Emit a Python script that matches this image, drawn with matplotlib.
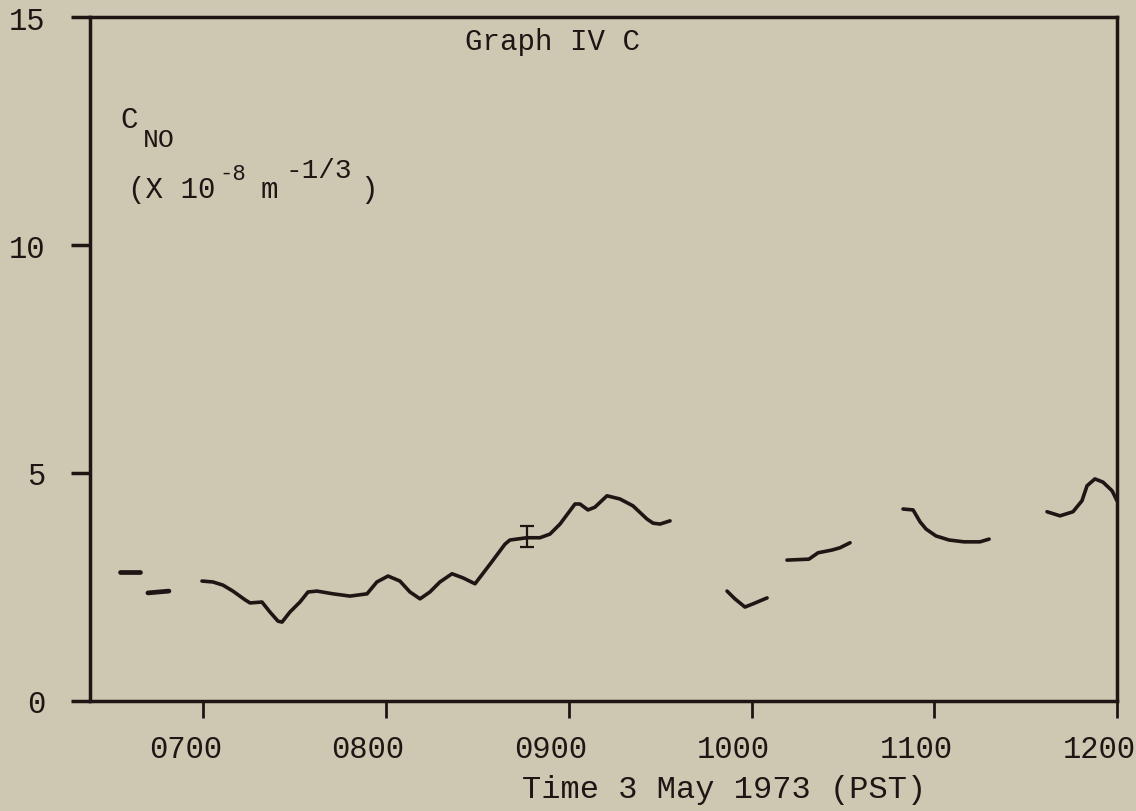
import matplotlib
matplotlib.use("Agg")
import matplotlib.pyplot as plt
from matplotlib.transforms import ScaledTranslation

plt.rcParams['font.family'] = ['Liberation Mono', 'DejaVu Sans Mono']

paper = '#ccc8b1'
ink = '#1e1614'

# time in decimal hours (PST), C_NO in units of 1e-8 m^-1/3
seg1_t = [6.544, 6.654]
seg1_c = [2.83, 2.83]

seg2_t = [6.697, 6.812]
seg2_c = [2.37, 2.41]

seg3_t = [6.993, 7.053, 7.108, 7.162, 7.228, 7.256, 7.321, 7.365, 7.409, 7.431,
          7.474, 7.529, 7.573, 7.622, 7.710, 7.803, 7.896, 7.950, 8.011, 8.076,
          8.131, 8.186, 8.240, 8.295, 8.361, 8.421, 8.487, 8.569, 8.651, 8.678,
          8.771, 8.842, 8.897, 8.952, 9.034, 9.061, 9.105, 9.143, 9.209, 9.280,
          9.351, 9.428, 9.461, 9.499, 9.554]
seg3_c = [2.63, 2.61, 2.54, 2.41, 2.22, 2.15, 2.17, 1.95, 1.75, 1.73,
          1.95, 2.17, 2.39, 2.41, 2.35, 2.30, 2.35, 2.61, 2.74, 2.63,
          2.39, 2.24, 2.39, 2.61, 2.79, 2.70, 2.57, 3.00, 3.44, 3.53,
          3.58, 3.58, 3.66, 3.88, 4.32, 4.32, 4.19, 4.25, 4.50, 4.43,
          4.28, 3.99, 3.90, 3.88, 3.95]

seg4_t = [9.866, 9.909, 9.964, 10.008, 10.085]
seg4_c = [2.41, 2.24, 2.06, 2.13, 2.26]

seg5_t = [10.194, 10.314, 10.364, 10.440, 10.484, 10.539]
seg5_c = [3.09, 3.11, 3.25, 3.31, 3.36, 3.47]

seg6_t = [10.829, 10.884, 10.922, 10.955, 11.009, 11.081, 11.163, 11.250, 11.300]
seg6_c = [4.21, 4.19, 3.93, 3.77, 3.62, 3.53, 3.49, 3.49, 3.55]

seg7_t = [11.617, 11.688, 11.759, 11.808, 11.836, 11.879, 11.923, 11.973, 12.0]
seg7_c = [4.15, 4.06, 4.15, 4.39, 4.72, 4.87, 4.80, 4.61, 4.39]

# error bar
err_t = 8.771
err_c = 3.61
err_h = 0.23

xticks = [7, 8, 9, 10, 11, 12]
xlabels = ['0700', '0800', '0900', '1000', '1100', '1200']
yticks = [0, 5, 10, 15]

fig = plt.figure(figsize=(11.36, 8.12), dpi=100, facecolor=paper)
ax = fig.add_axes([0.0792, 0.1355, 0.9041, 0.8423])
ax.set_facecolor(paper)

segs = [(seg1_t, seg1_c), (seg2_t, seg2_c), (seg3_t, seg3_c), (seg4_t, seg4_c),
        (seg5_t, seg5_c), (seg6_t, seg6_c), (seg7_t, seg7_c)]
for t, c in segs:
    lw = 3.4 if len(t) == 2 else 2.6
    ax.plot(t, c, color=ink, lw=lw, solid_capstyle='round', solid_joinstyle='round')

ax.errorbar([err_t], [err_c], yerr=[err_h], fmt='none', ecolor=ink,
            elinewidth=1.6, capsize=5, capthick=1.6)

ax.set_xlim(6.38, 12.0)
ax.set_ylim(0, 15)
ax.set_xticks(xticks)
ax.set_xticklabels(xlabels)
ax.set_yticks(yticks)

for s in ax.spines.values():
    s.set_color(ink)
    s.set_linewidth(2.5)

ax.tick_params(axis='x', direction='out', length=12, width=2, color=ink,
               labelsize=22, labelcolor=ink, pad=12)
ax.tick_params(axis='y', direction='out', length=14, width=2.5, color=ink,
               labelsize=22, labelcolor=ink, pad=18)

shift = ScaledTranslation(-0.18, 0, fig.dpi_scale_trans)
for lab in ax.get_xticklabels():
    lab.set_transform(lab.get_transform() + shift)

ax.text(0.365, 0.965, 'Graph IV C', transform=ax.transAxes, fontsize=21,
        color=ink, ha='left', va='center')

# y quantity label, typed in pieces like the original
W, H = 1136.0, 812.0
def put(x, y, s, size):
    fig.text(x / W, 1 - y / H, s, fontsize=size, color=ink,
             ha='left', va='baseline')

put(120, 128, 'C', 21)
put(143, 147, 'NO', 19)
put(128, 198, '(X 10', 21)
put(219, 180, '-8', 16)
put(261, 198, 'm', 21)
put(285, 178, '-1/3', 20)
put(360, 198, ')', 21)

fig.text(0.637, 0.027, 'Time 3 May 1973 (PST)', fontsize=23, color=ink,
         ha='center', va='center')

fig.savefig('out.png', dpi=100, facecolor=paper)
